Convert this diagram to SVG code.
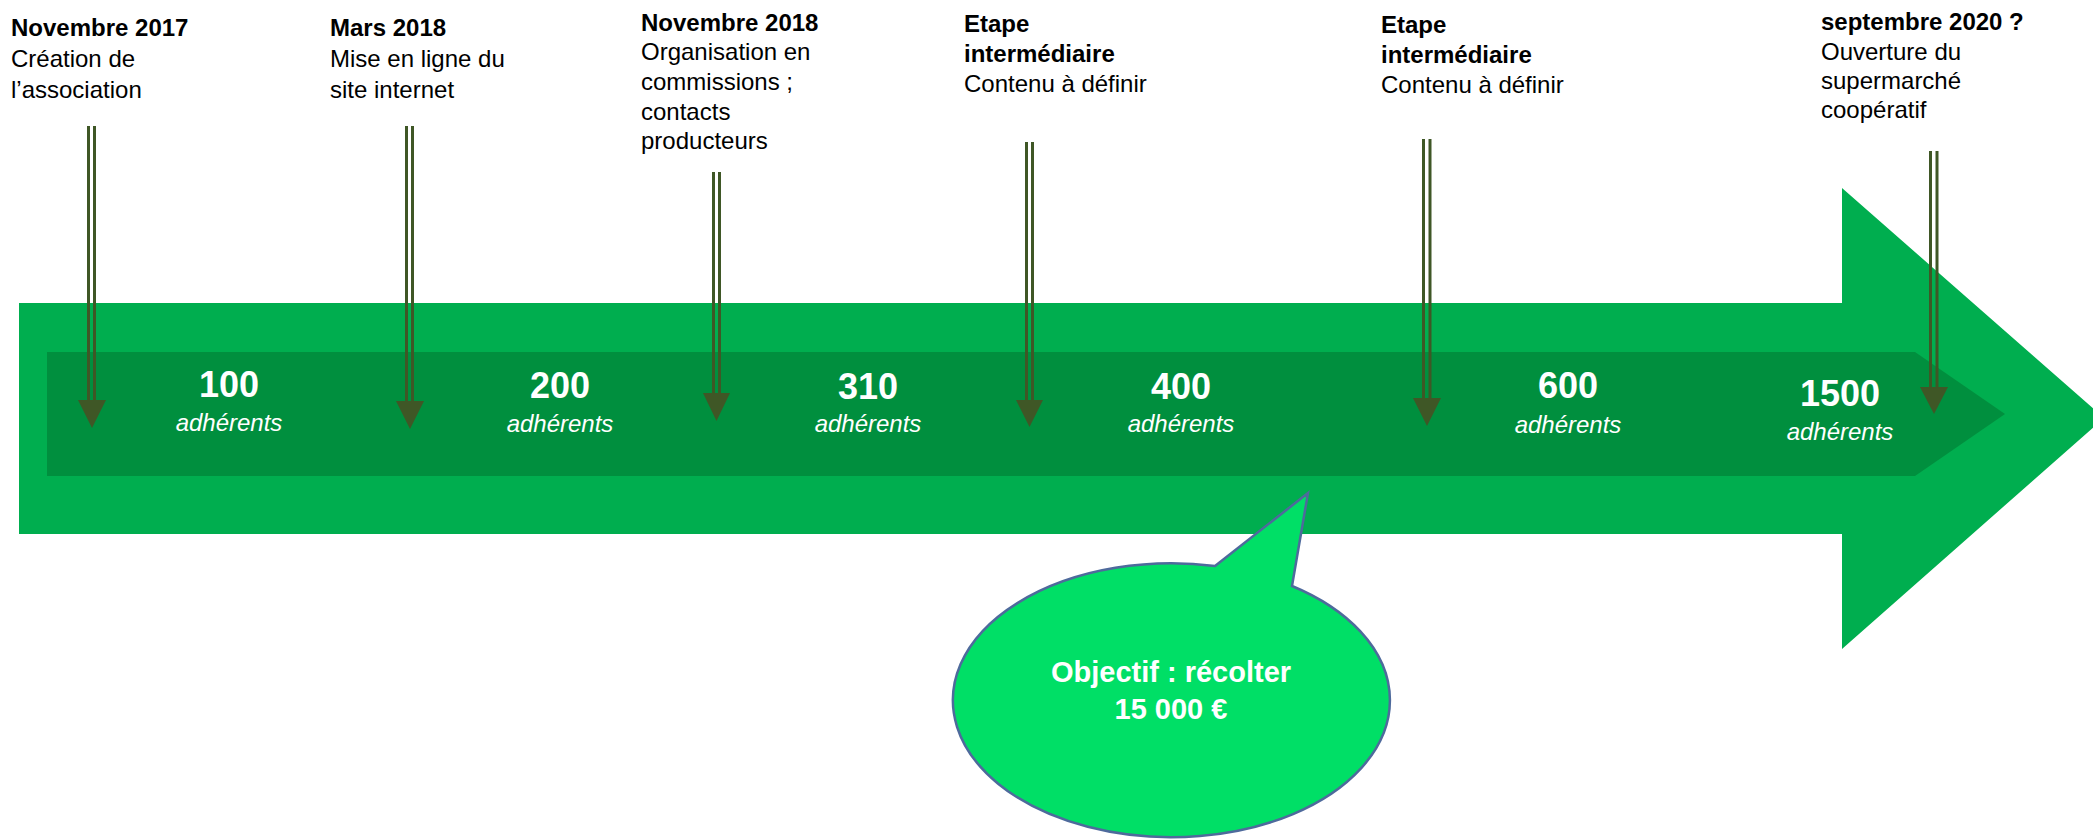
<svg xmlns="http://www.w3.org/2000/svg" width="2093" height="839" viewBox="0 0 2093 839">
  <style>
    text { font-family: "Liberation Sans", Arial, sans-serif; }
    .lbl { font-size: 24px; fill: #000000; }
    .b { font-weight: bold; }
    .num { font-size: 36px; font-weight: bold; fill: #ffffff; text-anchor: middle; }
    .adh { font-size: 24px; font-style: italic; fill: #ffffff; text-anchor: middle; }
    .conn line { stroke: #3F5726; stroke-width: 3; }
    .conn polygon { fill: #3F5726; }
    .bub { font-size: 29px; font-weight: bold; fill: #ffffff; text-anchor: middle; }
  </style>

  <g id="timeline-arrow">
    <polygon points="19,303 1842,303 1842,188 2104,418 1842,649 1842,534 19,534" fill="#00AE4F"/>
    <polygon points="47,352 1915,352 2005,414 1915,476 47,476" fill="#008F3E"/>
  </g>

  <g id="count-100">
    <text class="num" x="229" y="397">100</text>
    <text class="adh" x="229" y="431">adhérents</text>
  </g>
  <g id="count-200">
    <text class="num" x="560" y="398">200</text>
    <text class="adh" x="560" y="432">adhérents</text>
  </g>
  <g id="count-310">
    <text class="num" x="868" y="399">310</text>
    <text class="adh" x="868" y="432">adhérents</text>
  </g>
  <g id="count-400">
    <text class="num" x="1181" y="399">400</text>
    <text class="adh" x="1181" y="432">adhérents</text>
  </g>
  <g id="count-600">
    <text class="num" x="1568" y="398">600</text>
    <text class="adh" x="1568" y="433">adhérents</text>
  </g>
  <g id="count-1500">
    <text class="num" x="1840" y="406">1500</text>
    <text class="adh" x="1840" y="440">adhérents</text>
  </g>

  <g id="step-nov2017">
    <text class="lbl b" x="11" y="36">Novembre 2017</text>
    <text class="lbl" x="11" y="67">Création de</text>
    <text class="lbl" x="11" y="98">l’association</text>
  </g>
  <g id="step-mars2018">
    <text class="lbl b" x="330" y="36">Mars 2018</text>
    <text class="lbl" x="330" y="67">Mise en ligne du</text>
    <text class="lbl" x="330" y="98">site internet</text>
  </g>
  <g id="step-nov2018">
    <text class="lbl b" x="641" y="30.5">Novembre 2018</text>
    <text class="lbl" x="641" y="60">Organisation en</text>
    <text class="lbl" x="641" y="90">commissions ;</text>
    <text class="lbl" x="641" y="120">contacts</text>
    <text class="lbl" x="641" y="149">producteurs</text>
  </g>
  <g id="step-etape1">
    <text class="lbl b" x="964" y="31.5">Etape</text>
    <text class="lbl b" x="964" y="61.5">intermédiaire</text>
    <text class="lbl" x="964" y="91.5">Contenu à définir</text>
  </g>
  <g id="step-etape2">
    <text class="lbl b" x="1381" y="33">Etape</text>
    <text class="lbl b" x="1381" y="63">intermédiaire</text>
    <text class="lbl" x="1381" y="93">Contenu à définir</text>
  </g>
  <g id="step-sept2020">
    <text class="lbl b" x="1821" y="29.5">septembre 2020 ?</text>
    <text class="lbl" x="1821" y="59.5">Ouverture du</text>
    <text class="lbl" x="1821" y="89">supermarché</text>
    <text class="lbl" x="1821" y="118">coopératif</text>
  </g>

  <g id="connectors" class="conn">
    <line x1="88.5" y1="126" x2="88.5" y2="401"/>
    <line x1="94.5" y1="126" x2="94.5" y2="401"/>
    <polygon points="78,400 106,400 92,428"/>

    <line x1="406.5" y1="126" x2="406.5" y2="402"/>
    <line x1="412.5" y1="126" x2="412.5" y2="402"/>
    <polygon points="396,401 424,401 410,429"/>

    <line x1="713.5" y1="172" x2="713.5" y2="394"/>
    <line x1="719.5" y1="172" x2="719.5" y2="394"/>
    <polygon points="703,393 730,393 716.5,421"/>

    <line x1="1026.5" y1="142" x2="1026.5" y2="401"/>
    <line x1="1032.5" y1="142" x2="1032.5" y2="401"/>
    <polygon points="1016,400 1043,400 1029.5,427"/>

    <line x1="1423.5" y1="139" x2="1423.5" y2="399"/>
    <line x1="1430" y1="139" x2="1430" y2="399"/>
    <polygon points="1413,398 1441,398 1427,426"/>

    <line x1="1930.5" y1="151" x2="1930.5" y2="388"/>
    <line x1="1937" y1="151" x2="1937" y2="388"/>
    <polygon points="1920,387 1948,387 1934,414"/>
  </g>

  <g id="callout">
    <path d="M1215,566 L1308,493 L1292,586 A218.5,137 0 1,1 1215,566 Z" fill="#00DF66" stroke="#4E6A9C" stroke-width="2.5" stroke-linejoin="miter"/>
    <text class="bub" x="1171" y="682">Objectif : récolter</text>
    <text class="bub" x="1171" y="719">15 000 €</text>
  </g>
</svg>
